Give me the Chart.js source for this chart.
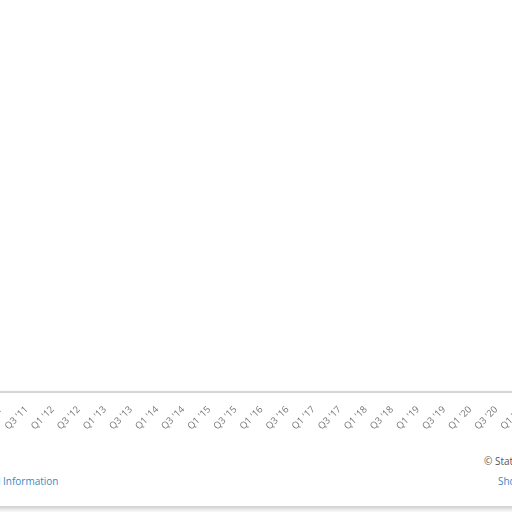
<!DOCTYPE html>
<html>
<head>
<meta charset="utf-8">
<script src="https://cdn.jsdelivr.net/npm/chart.js@4.4.0/dist/chart.umd.min.js"></script>
<style>
  html, body { margin: 0; width: 512px; height: 512px; overflow: hidden; background: #fff; font-family: "Open Sans", sans-serif; }
  #panel { position: absolute; left: -4px; top: 391px; width: 540px; height: 113px; border: 2px solid #d6d6d6; border-radius: 3px; background: #fff; box-shadow: 0 2px 4px rgba(0,0,0,0.15); }
  #chart { position: absolute; z-index: 1; }
  .txt { position: absolute; font-size: 10px; line-height: 14px; white-space: nowrap; z-index: 2; }
  .link { color: #3b88c4; }
  .src { color: #555; }
</style>
</head>
<body>
<div id="panel"></div>
<canvas id="chart" width="654" height="200"></canvas>
<span class="txt link" style="right:509px;top:474px">Additional&nbsp;</span>
<span class="txt link" style="left:3px;top:474px">Information</span>
<span class="txt src" style="left:484px;top:454px">© Statista 2021</span>
<span class="txt link" style="left:498px;top:474px">Show source</span>
<script>
// quarterly categories; only every other one gets a tick label
const quarters = [
  "Q1 '11", "Q2 '11", "Q3 '11", "Q4 '11",
  "Q1 '12", "Q2 '12", "Q3 '12", "Q4 '12",
  "Q1 '13", "Q2 '13", "Q3 '13", "Q4 '13",
  "Q1 '14", "Q2 '14", "Q3 '14", "Q4 '14",
  "Q1 '15", "Q2 '15", "Q3 '15", "Q4 '15",
  "Q1 '16", "Q2 '16", "Q3 '16", "Q4 '16",
  "Q1 '17", "Q2 '17", "Q3 '17", "Q4 '17",
  "Q1 '18", "Q2 '18", "Q3 '18", "Q4 '18",
  "Q1 '19", "Q2 '19", "Q3 '19", "Q4 '19",
  "Q1 '20", "Q2 '20", "Q3 '20", "Q4 '20",
  "Q1 '21", "Q2 '21", "Q3 '21", "Q4 '21",
];
// the plot area is cropped out of the reference, no values can be read
const values = [];

const canvas = document.getElementById("chart");
const ctx = canvas.getContext("2d");

const chart = new Chart(ctx, {
  type: "bar",
  data: {
    labels: quarters,
    datasets: [{ label: "Value", data: values, backgroundColor: "#0f73d0" }],
  },
  options: {
    responsive: false,
    animation: false,
    layout: { padding: { left: 40, right: 40, top: 10, bottom: 0 } },
    plugins: { legend: { display: false }, tooltip: { enabled: false } },
    scales: {
      x: {
        offset: true,
        grid: { display: false, drawTicks: false },
        border: { display: false },
        ticks: {
          autoSkip: false,
          minRotation: 45,
          maxRotation: 45,
          padding: 3,
          color: "#777",
          font: { family: "Open Sans", size: 9.5 },
          callback(v, i) {
            return i % 2 === 0 ? this.getLabelForValue(v) : "";
          },
        },
      },
      y: { display: false, beginAtZero: true },
    },
  },
});

// line the axis up with the cropped panel
const sx = chart.scales.x;
canvas.style.left = (1 - sx.getPixelForTick(0)) + "px";
canvas.style.top = (401 - sx.top) + "px";
</script>
</body>
</html>
